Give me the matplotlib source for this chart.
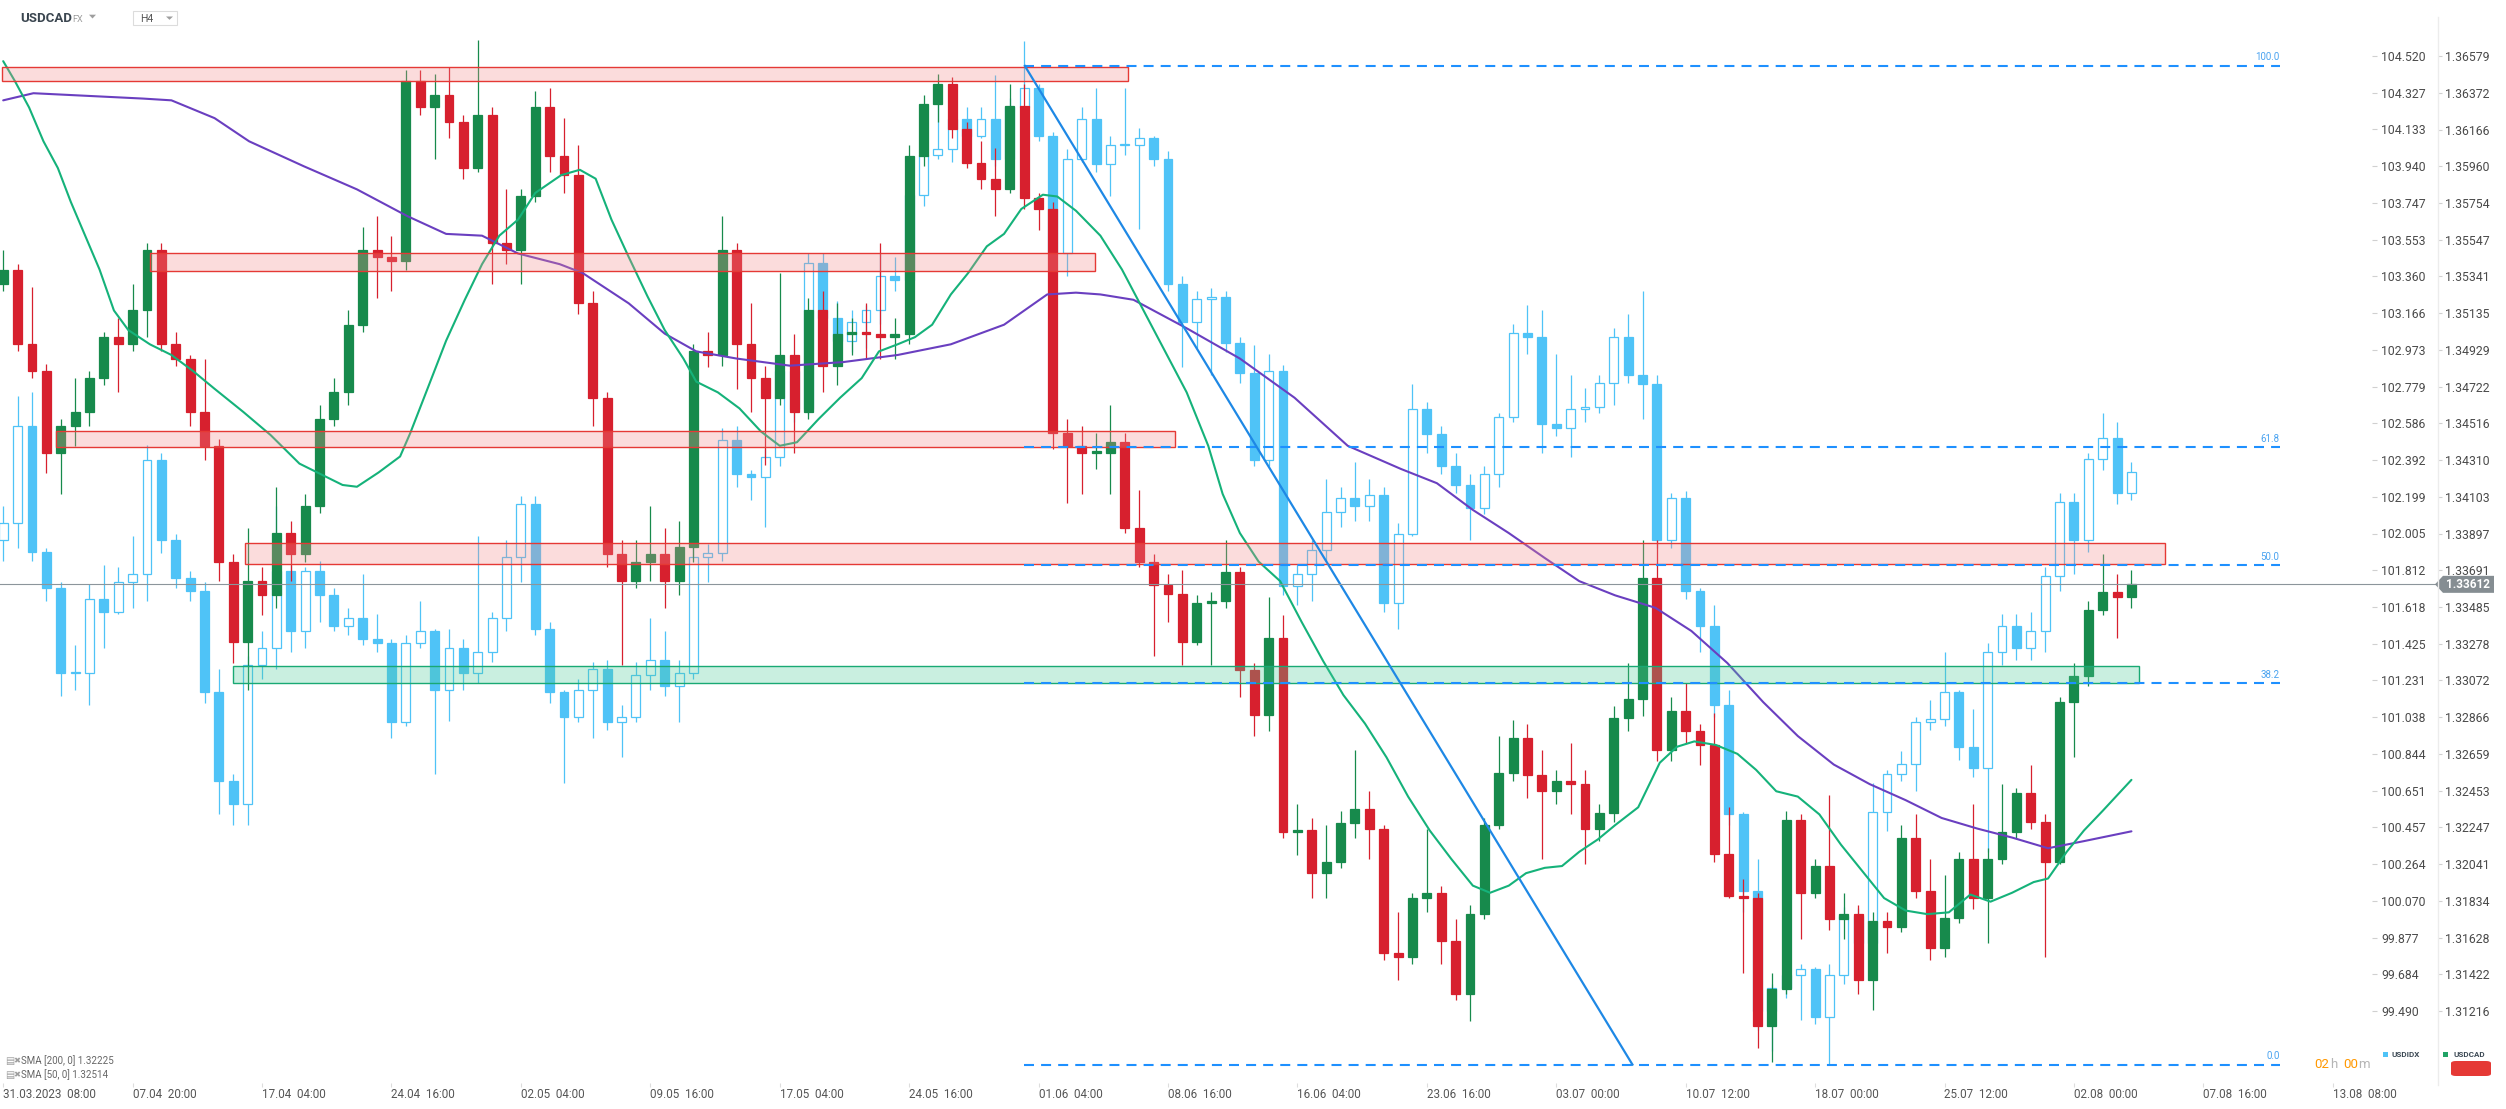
import matplotlib.pyplot as plt
from matplotlib.patches import Rectangle, Polygon, FancyBboxPatch
from matplotlib.lines import Line2D

plt.rcParams['font.family'] = ['Roboto', 'DejaVu Sans']

# ---------------- data (H4, ~3.7 candles per bar) ----------------
time_labels = ["31.03.2023  08:00", "07.04  20:00", "17.04  04:00", "24.04  16:00",
               "02.05  04:00", "09.05  16:00", "17.05  04:00", "24.05  16:00",
               "01.06  04:00", "08.06  16:00", "16.06  04:00", "23.06  16:00",
               "03.07  00:00", "10.07  12:00", "18.07  00:00", "25.07  12:00",
               "02.08  00:00", "07.08  16:00", "13.08  08:00"]

idx_ticks = [104.520, 104.327, 104.133, 103.940, 103.747, 103.553, 103.360, 103.166,
             102.973, 102.779, 102.586, 102.392, 102.199, 102.005, 101.812, 101.618,
             101.425, 101.231, 101.038, 100.844, 100.651, 100.457, 100.264, 100.070,
             99.877, 99.684, 99.490]
cad_ticks = [1.36579, 1.36372, 1.36166, 1.35960, 1.35754, 1.35547, 1.35341, 1.35135,
             1.34929, 1.34722, 1.34516, 1.34310, 1.34103, 1.33897, 1.33691, 1.33485,
             1.33278, 1.33072, 1.32866, 1.32659, 1.32453, 1.32247, 1.32041, 1.31834,
             1.31628, 1.31422, 1.31216]

# USDCAD
cad_open0 = 1.3530
cad_close = [
    1.3538, 1.3496, 1.3481, 1.3435, 1.3450, 1.3458, 1.3477, 1.3500, 1.3496, 1.3515,
    1.3549, 1.3496, 1.3488, 1.3458, 1.3439, 1.3374, 1.3329, 1.3363, 1.3355, 1.3390,
    1.3378, 1.3405, 1.3454, 1.3469, 1.3507, 1.3549, 1.3545, 1.3543, 1.3644, 1.3629,
    1.3636, 1.3621, 1.3595, 1.3625, 1.3553, 1.3549, 1.3579, 1.3629, 1.3602, 1.3591,
    1.3519, 1.3466, 1.3378, 1.3363, 1.3374, 1.3378, 1.3363, 1.3382, 1.3492, 1.3490,
    1.3549, 1.3496, 1.3477, 1.3466, 1.3490, 1.3458, 1.3515, 1.3484, 1.3502, 1.3503,
    1.3502, 1.3500, 1.3502, 1.3602, 1.3631, 1.3642, 1.3617, 1.3598, 1.3589, 1.3583,
    1.3630, 1.3578, 1.3572, 1.3446, 1.3439, 1.3435, 1.3435, 1.3441, 1.3393, 1.3374,
    1.3361, 1.3356, 1.3329, 1.3351, 1.3352, 1.3368, 1.3313, 1.3288, 1.3331, 1.3222,
    1.3223, 1.3199, 1.3205, 1.3227, 1.3235, 1.3224, 1.3154, 1.3152, 1.3185, 1.3188,
    1.3161, 1.3131, 1.3176, 1.3226, 1.3255, 1.3275, 1.3254, 1.3245, 1.3251, 1.3249,
    1.3224, 1.3233, 1.3286, 1.3297, 1.3365, 1.3268, 1.3290, 1.3279, 1.3271, 1.3210,
    1.3186, 1.3185, 1.3113, 1.3134, 1.3229, 1.3188, 1.3203, 1.3173, 1.3176, 1.3139,
    1.3172, 1.3169, 1.3219, 1.3189, 1.3157, 1.3174, 1.3207, 1.3185, 1.3207, 1.3222,
    1.3244, 1.3228, 1.3205, 1.3295, 1.3310, 1.3347, 1.3357, 1.3354, 1.33612]
cad_high = [
    1.3549, 1.3541, 1.3528, 1.3485, 1.3454, 1.3477, 1.3481, 1.3503, 1.3511, 1.3530,
    1.3553, 1.3553, 1.3503, 1.3490, 1.3488, 1.3443, 1.3378, 1.3393, 1.3371, 1.3416,
    1.3397, 1.3412, 1.3462, 1.3477, 1.3515, 1.3562, 1.3568, 1.3557, 1.3650, 1.3650,
    1.3648, 1.3652, 1.3625, 1.3667, 1.3629, 1.3583, 1.3583, 1.3638, 1.3640, 1.3623,
    1.3608, 1.3526, 1.3469, 1.3386, 1.3386, 1.3405, 1.3393, 1.3397, 1.3496, 1.3503,
    1.3568, 1.3553, 1.3519, 1.3484, 1.3536, 1.3502, 1.3522, 1.3526, 1.3519, 1.3511,
    1.3519, 1.3553, 1.3511, 1.3608, 1.3636, 1.3648, 1.3646, 1.3621, 1.3610, 1.3606,
    1.3642, 1.3642, 1.3581, 1.3576, 1.3454, 1.3450, 1.3446, 1.3462, 1.3446, 1.3414,
    1.3378, 1.3367, 1.3369, 1.3355, 1.3357, 1.3386, 1.3371, 1.3317, 1.3354, 1.3344,
    1.3238, 1.3230, 1.3226, 1.3234, 1.3268, 1.3245, 1.3226, 1.3177, 1.3188, 1.3224,
    1.3192, 1.3173, 1.3181, 1.3230, 1.3276, 1.3285, 1.3283, 1.3268, 1.3257, 1.3272,
    1.3257, 1.3238, 1.3293, 1.3317, 1.3386, 1.3386, 1.3298, 1.3306, 1.3283, 1.3289,
    1.3236, 1.3196, 1.3188, 1.3143, 1.3234, 1.3232, 1.3207, 1.3243, 1.3188, 1.3181,
    1.3177, 1.3177, 1.3226, 1.3232, 1.3207, 1.3198, 1.3211, 1.3238, 1.3213, 1.3249,
    1.3247, 1.3260, 1.3232, 1.3298, 1.3317, 1.3352, 1.3378, 1.3367, 1.3369]
cad_low = [
    1.3526, 1.3492, 1.3477, 1.3424, 1.3412, 1.3439, 1.3450, 1.3473, 1.3469, 1.3492,
    1.3500, 1.3492, 1.3484, 1.3450, 1.3431, 1.3363, 1.3317, 1.3302, 1.3344, 1.3348,
    1.3363, 1.3374, 1.3401, 1.3450, 1.3462, 1.3503, 1.3522, 1.3526, 1.3538, 1.3625,
    1.3600, 1.3612, 1.3589, 1.3593, 1.3530, 1.3541, 1.3530, 1.3576, 1.3593, 1.3581,
    1.3513, 1.3450, 1.3371, 1.3316, 1.3359, 1.3363, 1.3348, 1.3355, 1.3374, 1.3483,
    1.3484, 1.3471, 1.3458, 1.3428, 1.3462, 1.3435, 1.3454, 1.3469, 1.3473, 1.3490,
    1.3488, 1.3488, 1.3488, 1.3496, 1.3596, 1.3621, 1.3612, 1.3595, 1.3583, 1.3568,
    1.3581, 1.3572, 1.3560, 1.3437, 1.3407, 1.3412, 1.3426, 1.3412, 1.3390, 1.3371,
    1.3321, 1.3340, 1.3316, 1.3327, 1.3316, 1.3348, 1.3298, 1.3276, 1.3279, 1.3219,
    1.3209, 1.3185, 1.3185, 1.3202, 1.3219, 1.3207, 1.3150, 1.3139, 1.3148, 1.3177,
    1.3148, 1.3128, 1.3116, 1.3173, 1.3224, 1.3251, 1.3241, 1.3207, 1.3238, 1.3232,
    1.3204, 1.3217, 1.3228, 1.3279, 1.3287, 1.3262, 1.3262, 1.3272, 1.3260, 1.3205,
    1.3185, 1.3143, 1.3101, 1.3093, 1.3131, 1.3162, 1.3185, 1.3167, 1.3162, 1.3131,
    1.3122, 1.3154, 1.3166, 1.3185, 1.3150, 1.3152, 1.3171, 1.3179, 1.3160, 1.3204,
    1.3219, 1.3224, 1.3152, 1.3204, 1.3264, 1.3304, 1.3344, 1.3331, 1.3348]

# USDIDX
idx_open0 = 101.97
idx_close = [
    102.06, 102.57, 101.91, 101.72, 101.27, 101.27, 101.66, 101.59, 101.75, 101.79,
    102.39, 101.97, 101.77, 101.70, 101.17, 100.70, 100.58, 101.31, 101.40, 101.81,
    101.49, 101.81, 101.68, 101.52, 101.56, 101.45, 101.43, 101.01, 101.43, 101.49,
    101.18, 101.40, 101.27, 101.38, 101.56, 101.88, 102.16, 101.50, 101.17, 101.04,
    101.18, 101.29, 101.01, 101.04, 101.26, 101.34, 101.20, 101.27, 101.88, 101.90,
    102.50, 102.32, 102.30, 102.41, 102.86, 102.66, 103.43, 103.14, 103.02, 103.12,
    103.18, 103.36, 103.34, 103.79, 104.00, 104.03, 104.19, 104.10, 104.19, 103.98,
    104.25, 104.35, 104.10, 103.48, 103.98, 104.19, 103.95, 104.05, 104.05, 104.09,
    103.98, 103.32, 103.12, 103.24, 103.25, 103.01, 102.85, 102.39, 102.86, 101.73,
    101.79, 101.92, 102.12, 102.19, 102.15, 102.21, 101.64, 102.00, 102.66, 102.53,
    102.36, 102.26, 102.14, 102.32, 102.62, 103.06, 103.04, 102.58, 102.56, 102.66,
    102.67, 102.80, 103.04, 102.84, 102.79, 101.97, 102.19, 101.70, 101.52, 101.10,
    100.53, 100.12, 99.49, 99.61, 99.68, 99.71, 99.46, 99.68, 99.99, 99.85,
    100.54, 100.74, 100.79, 101.01, 101.03, 101.17, 100.88, 100.77, 101.38, 101.52,
    101.40, 101.49, 101.78, 102.17, 101.97, 102.40, 102.51, 102.22, 102.33]
idx_high = [
    102.15, 102.73, 102.75, 101.93, 101.75, 101.42, 101.74, 101.84, 101.83, 101.99,
    102.47, 102.43, 102.00, 101.81, 101.75, 101.29, 100.74, 101.36, 101.49, 102.15,
    101.84, 101.83, 101.86, 101.72, 101.61, 101.79, 101.58, 101.45, 101.47, 101.65,
    101.50, 101.50, 101.45, 101.99, 101.59, 101.97, 102.20, 102.20, 101.54, 101.18,
    101.24, 101.33, 101.34, 101.10, 101.33, 101.56, 101.49, 101.34, 101.97, 101.95,
    102.56, 102.57, 102.34, 102.45, 102.91, 102.93, 103.48, 103.48, 103.23, 103.18,
    103.21, 103.48, 103.46, 103.84, 104.09, 104.30, 104.25, 104.25, 104.25, 104.42,
    104.30, 104.60, 104.37, 104.12, 104.03, 104.25, 104.35, 104.10, 104.35, 104.14,
    104.10, 104.02, 103.36, 103.28, 103.30, 103.28, 103.04, 103.00, 102.95, 102.89,
    101.84, 101.97, 102.29, 102.25, 102.38, 102.29, 102.25, 102.06, 102.79, 102.70,
    102.57, 102.43, 102.32, 102.36, 102.64, 103.11, 103.21, 103.18, 102.95, 102.84,
    102.77, 102.84, 103.09, 103.16, 103.28, 102.84, 102.22, 102.23, 101.72, 101.63,
    101.18, 100.54, 100.29, 99.63, 99.74, 99.74, 99.72, 99.74, 100.04, 100.03,
    100.69, 100.76, 100.86, 101.04, 101.13, 101.38, 101.18, 101.08, 101.43, 101.58,
    101.58, 101.59, 101.83, 102.22, 102.22, 102.43, 102.64, 102.59, 102.38]
idx_low = [
    101.86, 101.93, 101.86, 101.65, 101.15, 101.18, 101.10, 101.40, 101.58, 101.61,
    101.65, 101.90, 101.72, 101.65, 101.11, 100.53, 100.47, 100.47, 101.24, 101.29,
    101.38, 101.40, 101.54, 101.49, 101.47, 101.42, 101.38, 100.93, 100.99, 101.40,
    100.74, 101.02, 101.18, 101.22, 101.33, 101.49, 101.75, 101.47, 101.11, 100.69,
    101.01, 100.93, 100.97, 100.83, 101.01, 101.18, 101.15, 101.01, 101.24, 101.75,
    101.86, 102.25, 102.18, 102.04, 102.36, 102.59, 102.63, 103.07, 102.93, 102.96,
    102.98, 103.11, 103.28, 103.25, 103.73, 103.98, 103.96, 104.00, 104.09, 103.94,
    103.94, 104.19, 104.07, 103.43, 103.36, 103.96, 103.91, 103.78, 104.00, 103.61,
    103.94, 103.28, 102.88, 102.98, 102.84, 102.96, 102.80, 102.36, 102.36, 101.68,
    101.63, 101.65, 101.86, 102.04, 102.07, 102.07, 101.59, 101.50, 101.99, 102.43,
    102.32, 102.22, 101.97, 102.11, 102.25, 102.59, 102.95, 102.43, 102.52, 102.41,
    102.59, 102.64, 102.68, 102.80, 102.61, 101.93, 101.93, 101.66, 101.38, 101.04,
    100.47, 100.01, 99.39, 99.28, 99.56, 99.44, 99.42, 99.21, 99.63, 99.74,
    99.81, 100.44, 100.70, 100.65, 100.97, 100.99, 100.81, 100.72, 100.33, 101.31,
    101.34, 101.34, 101.38, 101.70, 101.79, 101.91, 102.34, 102.16, 102.18]

# moving averages (bar position, USDCAD value)
sma200_x = [0.0, 2.1, 9.7, 11.7, 14.7, 17.1, 20.9, 24.6, 28.1, 30.8,
            33.3, 35.8, 38.7, 40.3, 43.5, 46.0, 48.2, 51.0, 54.7, 58.4,
            62.2, 65.9, 69.6, 72.6, 74.6, 76.3, 78.6, 82.3, 86.0, 89.8,
            93.5, 97.2, 99.7, 102.2, 104.7, 107.2, 109.6, 112.1, 114.9, 117.4,
            119.9, 122.4, 124.8, 127.3, 129.8, 132.3, 134.8, 137.3, 139.7, 142.2,
            144.7, 148.0]
sma200_y = [1.3633, 1.3637, 1.3634, 1.3633, 1.3623, 1.3610, 1.3596, 1.3583, 1.3568, 1.3558,
            1.3557, 1.3547, 1.3541, 1.3536, 1.3519, 1.3502, 1.3492, 1.3488, 1.3484, 1.3486,
            1.3490, 1.3496, 1.3507, 1.3524, 1.3525, 1.3524, 1.3521, 1.3505, 1.3488, 1.3466,
            1.3439, 1.3426, 1.3418, 1.3403, 1.3390, 1.3376, 1.3363, 1.3355, 1.3348, 1.3335,
            1.3317, 1.3295, 1.3276, 1.3260, 1.3249, 1.3240, 1.3230, 1.3224, 1.3219, 1.3213,
            1.3217, 1.32225]
sma50_x = [0.0, 0.8, 1.8, 2.8, 3.8, 4.7, 5.7, 6.7, 7.7, 8.7,
           10.2, 11.7, 13.2, 14.7, 16.7, 18.6, 20.6, 22.1, 23.6, 24.6,
           26.1, 27.6, 28.3, 29.6, 30.8, 32.1, 33.3, 34.5, 35.8, 37.0,
           38.8, 40.1, 41.2, 42.3, 43.5, 44.8, 46.0, 47.3, 48.2, 49.7,
           51.2, 52.7, 54.0, 55.2, 56.7, 58.2, 59.7, 60.9, 62.2, 63.4,
           64.6, 65.9, 67.1, 68.4, 69.6, 70.8, 72.3, 73.3, 74.6, 76.3,
           77.8, 79.3, 80.8, 82.3, 83.8, 84.8, 86.0, 87.3, 88.8, 90.3,
           91.8, 93.2, 94.7, 96.2, 97.7, 99.2, 100.7, 102.2, 103.4, 104.7,
           105.9, 107.2, 108.4, 109.6, 110.9, 112.1, 113.7, 115.2, 116.4, 117.6,
           119.1, 120.6, 121.9, 123.3, 124.8, 126.3, 127.8, 129.3, 130.8, 132.3,
           133.8, 135.3, 136.8, 138.2, 139.7, 141.2, 142.2, 143.5, 144.7, 146.0,
           148.0]
sma50_y = [1.3655, 1.3644, 1.3629, 1.3610, 1.3595, 1.3576, 1.3557, 1.3538, 1.3515, 1.3504,
           1.3496, 1.3490, 1.3481, 1.3471, 1.3458, 1.3445, 1.3429, 1.3423, 1.3417, 1.3416,
           1.3424, 1.3433, 1.3446, 1.3473, 1.3498, 1.3521, 1.3541, 1.3557, 1.3566, 1.3581,
           1.3591, 1.3594, 1.3589, 1.3566, 1.3545, 1.3523, 1.3504, 1.3488, 1.3475, 1.3469,
           1.3460, 1.3447, 1.3439, 1.3441, 1.3454, 1.3466, 1.3477, 1.3492, 1.3496, 1.3500,
           1.3507, 1.3524, 1.3536, 1.3551, 1.3558, 1.3572, 1.3580, 1.3579, 1.3571, 1.3557,
           1.3538, 1.3515, 1.3492, 1.3469, 1.3439, 1.3412, 1.3390, 1.3374, 1.3363, 1.3340,
           1.3318, 1.3299, 1.3283, 1.3264, 1.3242, 1.3223, 1.3207, 1.3192, 1.3188, 1.3192,
           1.3199, 1.3202, 1.3203, 1.3211, 1.3218, 1.3226, 1.3236, 1.3261, 1.3270, 1.3273,
           1.3271, 1.3266, 1.3257, 1.3245, 1.3242, 1.3232, 1.3215, 1.3200, 1.3185, 1.3178,
           1.3176, 1.3177, 1.3187, 1.3183, 1.3188, 1.3194, 1.3196, 1.3211, 1.3223, 1.3234,
           1.32514]

# supply / demand zones: (bar from, bar to, low, high)
red_zones = [(-0.1, 78.2, 1.36439, 1.36516),
             (10.2, 75.9, 1.35369, 1.35471),
             (3.7, 81.5, 1.34381, 1.34472),
             (16.8, 150.3, 1.33724, 1.33846)]
green_zones = [(16.0, 148.5, 1.33060, 1.33155)]

# fibonacci retracement + trend line
fib_levels = [100.0, 61.8, 50.0, 38.2, 0.0]
fib_hi, fib_lo = 1.36523, 1.30915
fib_from, fib_to = 71.0, 158.3
trend_x = [71.05, 113.3]
trend_y = [1.36523, 1.30915]

sma200_last, sma50_last = 1.32225, 1.32514

# ---------------- figure ----------------
W, H = 2506, 1109
fig = plt.figure(figsize=(W / 100, H / 100), dpi=100)
fig.patch.set_facecolor('white')

TOP, BOT, RIGHT = 0, 1083, 2372
T0, T1 = 56, 1011          # pixel rows of first / last price tick
BAR0, BAR_W = 3.2, 14.38   # pixel of bar 0 and bar spacing


def fx(px):
    return px / W


def fy(py):
    return 1 - py / H


def lims(ticks):
    per = (ticks[0] - ticks[-1]) / (T1 - T0)
    return ticks[-1] - (BOT - T1) * per, ticks[0] + (T0 - TOP) * per


ax = fig.add_axes([0, fy(BOT), fx(RIGHT), (BOT - TOP) / H])
axc = ax.twinx()
xlim = ((0 - BAR0) / BAR_W, (RIGHT - BAR0) / BAR_W)
for a in (ax, axc):
    a.set_xlim(*xlim)
    for s in a.spines.values():
        s.set_visible(False)
ax.set_ylim(*lims(idx_ticks))
axc.set_ylim(*lims(cad_ticks))

BLUE = '#4fc3f7'
GREEN = '#178a4c'
RED = '#d7202e'


def candles(a, open0, closes, highs, lows, up_edge, dn_edge, up_face, dn_face, min_h, z):
    opens = [open0] + closes[:-1]
    xs = list(range(len(closes)))
    ups = [c >= o for o, c in zip(opens, closes)]
    edges = [up_edge if u else dn_edge for u in ups]
    faces = [up_face if u else dn_face for u in ups]
    a.vlines(xs, lows, highs, colors=edges, linewidth=0.9, zorder=z)
    bottoms = [min(o, c) for o, c in zip(opens, closes)]
    heights = [max(abs(c - o), min_h) for o, c in zip(opens, closes)]
    a.bar(xs, heights, bottom=bottoms, width=0.62, color=faces, edgecolor=edges,
          linewidth=0.9, zorder=z + 0.1)


idx_per = (idx_ticks[0] - idx_ticks[-1]) / (T1 - T0)
cad_per = (cad_ticks[0] - cad_ticks[-1]) / (T1 - T0)
candles(ax, idx_open0, idx_close, idx_high, idx_low, BLUE, BLUE, 'white', BLUE, 1.5 * idx_per, 2)
candles(axc, cad_open0, cad_close, cad_high, cad_low, GREEN, RED, GREEN, RED, 1.5 * cad_per, 2)

# moving averages
axc.plot(sma200_x, sma200_y, color='#6a3fc0', lw=1.5, zorder=3, solid_capstyle='round')
axc.plot(sma50_x, sma50_y, color='#15b27a', lw=1.5, zorder=3, solid_capstyle='round')

# zones
for x0, x1, lo, hi in red_zones:
    axc.add_patch(Rectangle((x0, lo), x1 - x0, hi - lo, facecolor=(0.95, 0.55, 0.55, 0.3),
                            edgecolor='#e53935', lw=1.0, zorder=4))
for x0, x1, lo, hi in green_zones:
    axc.add_patch(Rectangle((x0, lo), x1 - x0, hi - lo, facecolor=(0.3, 0.8, 0.6, 0.3),
                            edgecolor='#19a974', lw=1.0, zorder=4))

# fibonacci
for lvl in fib_levels:
    price = fib_lo + lvl / 100.0 * (fib_hi - fib_lo)
    axc.plot([fib_from, fib_to], [price, price], color='#1e90ff', lw=1.5,
             linestyle=(0, (4.8, 3.4)), zorder=5)
    axc.annotate(f"{lvl:.1f}", xy=(fib_to, price), xytext=(0, 2.5), textcoords='offset points',
                 ha='right', va='bottom', fontsize=7, color='#4aa3f0', zorder=6)
axc.plot(trend_x, trend_y, color='#1e88e5', lw=1.6, zorder=5)

# time axis
ax.set_xticks([9 * k for k in range(len(time_labels))])
ax.set_xticklabels(time_labels, ha='left')
ax.tick_params(axis='x', length=3, color='#dddddd', pad=0.5, labelsize=8.4, labelcolor='#555555')
axc.tick_params(axis='x', bottom=False, labelbottom=False)
axc.tick_params(axis='y', right=False, labelright=False, left=False, labelleft=False)

# USDIDX price axis
ax.yaxis.tick_right()
ax.set_yticks(idx_ticks)
ax.set_yticklabels([f"{v:.3f}" for v in idx_ticks])
ax.tick_params(axis='y', length=3.6, color='#d0d0d0', pad=2.9, labelsize=8.8, labelcolor='#4a4a4a')

# USDCAD price axis
SEP = 2438
cx = fig.add_axes([fx(SEP), fy(BOT), 0.0001, (BOT - TOP) / H])
cx.set_ylim(*lims(cad_ticks))
cx.set_xticks([])
for s in cx.spines.values():
    s.set_visible(False)
cx.yaxis.tick_right()
cx.set_yticks(cad_ticks)
cx.set_yticklabels([f"{v:.5f}" for v in cad_ticks])
cx.tick_params(axis='y', length=2.9, color='#d0d0d0', pad=2.2, labelsize=8.8, labelcolor='#4a4a4a')
fig.add_artist(Line2D([fx(SEP), fx(SEP)], [fy(17), fy(BOT + 2)], color='#ececec', lw=1.0))

# last price line + tag
last = cad_close[-1]
py = T0 + (cad_ticks[0] - last) / cad_per
fig.add_artist(Line2D([0, fx(2435)], [fy(py), fy(py)], color='#8c959b', lw=0.8, zorder=1))
tag = [(2435, py), (2443, py - 8.5), (2494, py - 8.5), (2494, py + 8.5), (2443, py + 8.5)]
fig.add_artist(Polygon([(fx(x), fy(y)) for x, y in tag], closed=True, transform=fig.transFigure,
                       facecolor='#858d92', edgecolor='none'))
fig.text(fx(2468), fy(py), f"{last:.5f}", ha='center', va='center', fontsize=8.5,
         color='white', fontweight='bold')

# header
fig.text(fx(20.7), fy(18), "USDCAD", ha='left', va='center', fontsize=9.5, fontweight='bold',
         color='#3b4650')
fig.text(fx(72), fy(19.5), "FX", ha='left', va='center', fontsize=6.5, color='#9e9e9e')
fig.add_artist(Polygon([(fx(89), fy(14.7)), (fx(96), fy(14.7)), (fx(92.5), fy(18.5))],
                       closed=True, transform=fig.transFigure, facecolor='#9e9e9e', edgecolor='none'))
fig.add_artist(Rectangle((fx(133), fy(25.3)), fx(44), 14.6 / H, transform=fig.transFigure,
                         fill=False, edgecolor='#dcdcdc', lw=0.8))
fig.text(fx(140), fy(18.5), "H4", ha='left', va='center', fontsize=7.5, color='#555555')
fig.add_artist(Polygon([(fx(166), fy(16.5)), (fx(173), fy(16.5)), (fx(169.5), fy(19.8))],
                       closed=True, transform=fig.transFigure, facecolor='#9e9e9e', edgecolor='none'))

# indicator legend (bottom left)
for row, (per, val) in enumerate([(200, sma200_last), (50, sma50_last)]):
    yy = 1061 + row * 14
    fig.text(fx(5), fy(yy), "\u25a4", ha='left', va='center', fontsize=7, color='#9e9e9e',
             family=['DejaVu Sans'])
    fig.text(fx(13), fy(yy), "\u2716", ha='left', va='center', fontsize=6, color='#9e9e9e',
             family=['DejaVu Sans'])
    fig.text(fx(21), fy(yy), f"SMA [{per}, 0] {val:.5f}", ha='left', va='center',
             fontsize=7, color='#666666')

# countdown + series legend (bottom right)
cy = fy(1065)
fig.text(fx(2314), cy, "02", ha='left', va='center', fontsize=9.5, color='#ff9800')
fig.text(fx(2330), cy, "h", ha='left', va='center', fontsize=9.5, color='#b5b5b5')
fig.text(fx(2343), cy, "00", ha='left', va='center', fontsize=9.5, color='#ff9800')
fig.text(fx(2358), cy, "m", ha='left', va='center', fontsize=9.5, color='#b5b5b5')

fig.add_artist(Rectangle((fx(2383), fy(1057)), fx(5), 5 / H, transform=fig.transFigure,
                         facecolor=BLUE, edgecolor='none'))
fig.text(fx(2392), fy(1054.5), "USDIDX", ha='left', va='center', fontsize=5.8,
         fontweight='bold', color='#3d4a55')
fig.add_artist(Rectangle((fx(2443), fy(1057)), fx(5), 5 / H, transform=fig.transFigure,
                         facecolor='#21a366', edgecolor='none'))
fig.text(fx(2453), fy(1054.5), "USDCAD", ha='left', va='center', fontsize=5.8,
         fontweight='bold', color='#3d4a55')
fig.add_artist(FancyBboxPatch((fx(2451), fy(1076)), fx(40), 15 / H,
                              boxstyle="round,pad=0,rounding_size=0.002",
                              transform=fig.transFigure, facecolor='#e53935', edgecolor='none'))

fig.savefig('out.png', dpi=100, facecolor='white')
